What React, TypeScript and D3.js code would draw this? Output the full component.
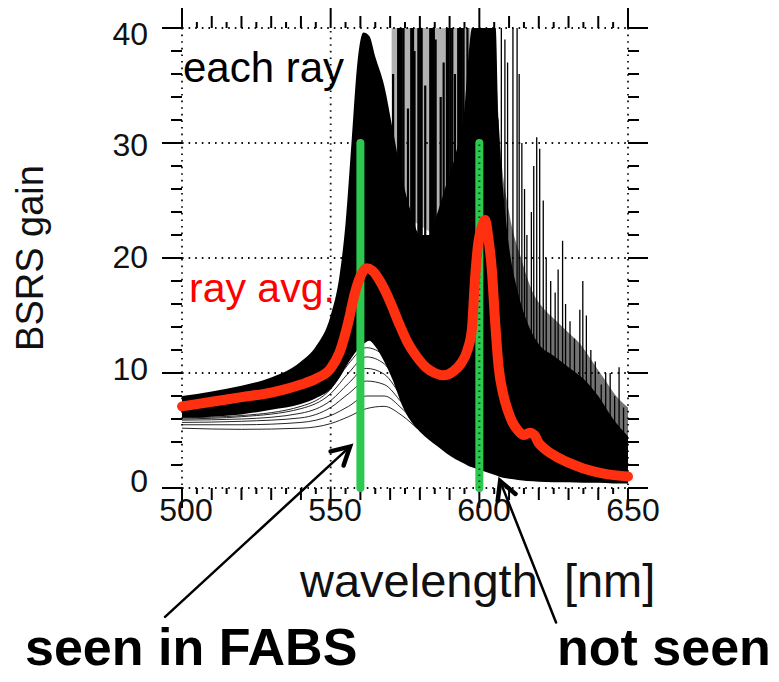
import React from 'react';
import * as d3 from 'd3';

const WIDTH = 779;
const HEIGHT = 682;

// tick labels
const xTickLabels = [500, 550, 600, 650];
const yTickLabels = [0, 10, 20, 30, 40];
const xGrid = [550, 600];
const yGrid = [10, 20, 30];

// ray average (red)
const avgNm = [500, 510, 520, 530, 540, 545, 550, 553, 556, 558, 560, 562, 564, 567, 570, 573, 576, 579, 582, 585, 588, 591, 594, 596, 597.5, 598.5, 599.5, 601, 602, 603, 604.2, 605.3, 606.5, 608, 609.5, 611, 613, 615, 617, 618.5, 620, 622.5, 626, 630, 635, 641, 646, 650];
const avgGain = [7.1, 7.5, 7.9, 8.3, 9.0, 9.5, 10.4, 11.8, 14.5, 16.8, 18.4, 19.1, 18.9, 17.8, 16.2, 14.3, 12.6, 11.4, 10.5, 10.0, 9.8, 10.1, 10.9, 12.0, 13.8, 18.0, 21.0, 22.8, 23.3, 21.8, 19.0, 14.5, 10.5, 8.2, 6.8, 5.8, 5.0, 4.6, 4.8, 4.6, 3.9, 3.3, 2.7, 2.2, 1.7, 1.3, 1.1, 1.0];

// dense bundle of individual rays: upper / lower envelope
const coreNm = [500, 510, 520, 530, 540, 545, 550, 553, 555, 557, 559, 561, 563, 565, 568, 571, 574, 577, 580, 583, 586, 589, 592, 595, 596.5, 597.5, 605.5, 606.5, 608, 610, 613, 616, 620, 625, 630, 635, 640, 645, 650];
const coreHi = [8.0, 8.4, 8.9, 9.6, 11.0, 12.3, 15.0, 18.5, 23, 30, 37, 39.6, 39.3, 37.5, 35, 31, 27, 24, 22, 22, 24, 26.5, 29, 33, 38, 40, 40, 32, 26, 21, 17, 14.5, 12.5, 11.5, 10.5, 9.5, 8, 6, 4.5];
const coreLo = [6.1, 6.2, 6.4, 6.8, 7.3, 7.8, 8.6, 9.6, 10.5, 11.3, 12.0, 12.5, 12.8, 12.3, 11.0, 9.3, 7.2, 5.8, 4.9, 4.2, 3.6, 3.0, 2.5, 2.1, 1.9, 1.8, 1.1, 1.0, 0.9, 0.8, 0.7, 0.6, 0.55, 0.5, 0.5, 0.45, 0.45, 0.4, 0.4];

// loose streaks between the two resonances
const streakNm = [570.5, 573, 597];
const streakLo = [31, 24, 20];

// looser mesh of rays at long wavelengths
const meshNm = [605, 607, 610, 614, 618, 622, 626, 630, 634, 638, 642, 646, 650];
const meshHi = [40, 30, 24, 20, 17, 15.5, 14.5, 13.5, 12.5, 11, 9.5, 8, 7];
const meshLo = [2, 2, 2, 2, 2, 2, 2, 2, 2, 2, 2, 2, 2];

// resonance spikes of individual rays
const spikeNm = [571, 572.7, 573.3, 573.9, 574.5, 576, 577.1, 577.7, 578.2, 579.5, 580.1, 580.6, 581.8, 583.5, 584.1, 584.7, 585.3, 587, 588, 589.1, 589.7, 590.3, 590.9, 591.8, 592.9, 593.5, 594.1, 594.7, 596, 607.4, 608.6, 609.5, 611.3, 612.7, 613.4, 614.3, 615.2, 616, 617.5, 618.3, 619.3, 620.3, 621.5, 622.5, 624, 625.5, 626.5, 628, 629, 630.5, 632, 633.8, 634.8, 636, 637.5, 639, 641, 642.5, 644, 645.5, 647, 648.5];
const spikeTop = [36, 40, 40, 40, 40, 33, 40, 40, 38, 40, 40, 40, 35, 40, 40, 40, 39, 34, 37, 40, 40, 40, 40, 36, 40, 40, 40, 40, 40, 40, 39, 37, 40, 40, 36, 30, 26, 22, 24, 28, 30.5, 29.5, 25, 20, 18, 17, 19, 21.5, 16, 14.5, 13, 15.5, 18, 15, 12, 11, 9, 10, 10, 8, 10.5, 7];

// weakest individual rays below the bundle
const fringeNm = [500, 520, 540, 550, 556, 562, 568, 574, 580, 590, 600, 615, 650];
const fringe1 = [5.2, 5.1, 5.2, 5.6, 6.2, 6.9, 7.1, 6.3, 5.0, 3.4, 2.0, 1.0, 0.5];
const fringe2 = [5.5, 5.5, 5.7, 6.3, 7.1, 8.0, 8.0, 6.9, 5.3, 3.6, 2.1, 1.0, 0.5];
const fringe3 = [5.7, 5.8, 6.1, 7.0, 8.2, 9.3, 9.0, 7.4, 5.6, 3.8, 2.2, 1.1, 0.5];
const fringe4 = [5.9, 6.0, 6.5, 7.6, 9.1, 10.4, 9.9, 7.9, 5.9, 3.9, 2.3, 1.1, 0.5];
const fringe5 = [6.0, 6.2, 6.9, 8.2, 10.0, 11.4, 10.8, 8.4, 6.1, 4.0, 2.4, 1.1, 0.5];
const fringe6 = [6.1, 6.3, 7.1, 8.6, 10.8, 12.2, 11.5, 8.8, 6.3, 4.1, 2.4, 1.1, 0.5];
const fringes = [fringe1, fringe2, fringe3, fringe4, fringe5, fringe6];

// FABS wavelengths (green)
const greenNm = [560, 600];
const greenTop = [30, 30];

// annotation arrows (data coords: tail -> tip)
const arrowTailNm = [494.3, 625.8];
const arrowTailGain = [-11.2, -11.7];
const arrowTipNm = [556.5, 607];
const arrowTipGain = [3.6, 0.6];

const FONT = '"Liberation Sans", Arial, Helvetica, sans-serif';

export default function App() {
  const x = d3.scaleLinear().domain([500, 650]).range([182, 628]);
  const y = d3.scaleLinear().domain([0, 40]).range([488, 28]);
  const yLab = d3.scaleLinear().domain([0, 40]).range([480, 33]);
  const xLab = d3.scaleLinear().domain([500, 650]).range([186, 633]);

  const [x0, x1] = x.range();
  const [yb, yt] = y.range();

  const coreArea = d3
    .area<number>()
    .x((_, i) => x(coreNm[i]))
    .y0((_, i) => y(coreLo[i]))
    .y1((_, i) => y(coreHi[i]))
    .curve(d3.curveMonotoneX)(coreNm);

  const meshArea = d3
    .area<number>()
    .x((_, i) => x(meshNm[i]))
    .y0((_, i) => y(meshLo[i]))
    .y1((_, i) => y(meshHi[i]))
    .curve(d3.curveMonotoneX)(meshNm);

  const streakArea = d3
    .area<number>()
    .x((_, i) => x(streakNm[i]))
    .y0((_, i) => y(streakLo[i]))
    .y1(() => y(40))
    .curve(d3.curveLinear)(streakNm);

  const lineGen = (xs: number[], ys: number[]) =>
    d3
      .line<number>()
      .x((_, i) => x(xs[i]))
      .y((_, i) => y(ys[i]))
      .curve(d3.curveMonotoneX)(xs);

  const avgPath = lineGen(avgNm, avgGain);

  const xTicks = d3.range(500, 651, 5);
  const yTicks = d3.range(0, 41, 2);
  const xLen = (v: number) => (v % 50 === 0 ? 20 : v % 10 === 0 ? 12 : 6);
  const yLen = (v: number) => (v % 10 === 0 ? 20 : 11);

  const dotted = { stroke: '#111', strokeWidth: 1.8, strokeDasharray: '1.6 5' };

  const arrows = arrowTipNm.map((_, i) => {
    const tx = x(arrowTipNm[i]);
    const ty = y(arrowTipGain[i]);
    const sx = x(arrowTailNm[i]);
    const sy = y(arrowTailGain[i]);
    const ang = Math.atan2(ty - sy, tx - sx);
    const L = 20;
    const a = 0.5;
    const h1 = [tx - L * Math.cos(ang - a), ty - L * Math.sin(ang - a)];
    const h2 = [tx - L * Math.cos(ang + a), ty - L * Math.sin(ang + a)];
    return { tx, ty, sx, sy, h1, h2 };
  });

  return (
    <svg
      width={WIDTH}
      height={HEIGHT}
      style={{ position: 'absolute', left: 0, top: 0, background: '#fff' }}
      fontFamily={FONT}
    >
      <defs>
        <clipPath id="plot">
          <rect x={x0} y={yt} width={x1 - x0} height={yb - yt} />
        </clipPath>
      </defs>

      {/* grid */}
      {xGrid.map((v) => (
        <line key={'gx' + v} x1={x(v)} x2={x(v)} y1={yb} y2={yt} {...dotted} />
      ))}
      {yGrid.map((v) => (
        <line key={'gy' + v} x1={x0} x2={x1} y1={y(v)} y2={y(v)} {...dotted} />
      ))}
      {/* frame */}
      <line x1={x0} x2={x1} y1={yt} y2={yt} {...dotted} />
      <line x1={x0} x2={x1} y1={yb} y2={yb} {...dotted} />
      <line x1={x0} x2={x0} y1={yt} y2={yb} {...dotted} />
      <line x1={x1} x2={x1} y1={yt} y2={yb} {...dotted} />

      {/* ticks */}
      <g stroke="#000" strokeWidth={2}>
        {xTicks.map((v) => (
          <g key={'xt' + v}>
            <line x1={x(v)} x2={x(v)} y1={yb} y2={yb + xLen(v)} />
            <line x1={x(v)} x2={x(v)} y1={yt} y2={yt - xLen(v)} />
          </g>
        ))}
        {yTicks.map((v) => (
          <g key={'yt' + v}>
            <line x1={x0} x2={x0 - yLen(v)} y1={y(v)} y2={y(v)} />
            <line x1={x1} x2={x1 + yLen(v)} y1={y(v)} y2={y(v)} />
          </g>
        ))}
      </g>

      {/* tick labels */}
      <g fontSize={32} fill="#111">
        {yTickLabels.map((v) => (
          <text key={'yl' + v} x={148} y={yLab(v)} textAnchor="end" dy="0.36em">
            {v}
          </text>
        ))}
        {xTickLabels.map((v) => (
          <text key={'xl' + v} x={xLab(v)} y={521} textAnchor="middle">
            {v}
          </text>
        ))}
      </g>

      {/* rays */}
      <g clipPath="url(#plot)">
        <path d={meshArea || ''} fill="#000" opacity={0.55} />
        <path d={streakArea || ''} fill="#000" opacity={0.3} />
        <path d={coreArea || ''} fill="#000" />
        {spikeNm.map((v, i) => (
          <line
            key={'sp' + i}
            x1={x(v)}
            x2={x(v)}
            y1={y(v < 600 ? 15 : 3)}
            y2={y(spikeTop[i])}
            stroke="#000"
            strokeWidth={v > 606 ? 1.3 : 2.2}
          />
        ))}
        {fringes.map((f, i) => (
          <path
            key={'fr' + i}
            d={lineGen(fringeNm, f) || ''}
            fill="none"
            stroke="#000"
            strokeWidth={1}
            opacity={0.85}
          />
        ))}
      </g>

      {/* FABS wavelengths */}
      {greenNm.map((v, i) => (
        <line
          key={'gn' + i}
          x1={x(v)}
          x2={x(v)}
          y1={y(0)}
          y2={y(greenTop[i])}
          stroke="#2dc84f"
          strokeWidth={8}
          strokeLinecap="round"
        />
      ))}
      <line
        x1={x(greenNm[1])}
        x2={x(greenNm[1])}
        y1={y(0)}
        y2={y(greenTop[1])}
        stroke="#0a3a14"
        strokeWidth={2}
        strokeDasharray="1.5 4.5"
      />

      {/* ray average */}
      <path
        d={avgPath || ''}
        fill="none"
        stroke="#ff3010"
        strokeWidth={10}
        strokeLinejoin="round"
        strokeLinecap="round"
      />

      {/* texts */}
      <text x={183} y={82} fontSize={42} fill="#000">
        each ray
      </text>
      <text x={189} y={302} fontSize={41} fill="#ff0000">
        ray avg.
      </text>
      <text
        transform="translate(43,258) rotate(-90)"
        textAnchor="middle"
        fontSize={38}
        fill="#111"
      >
        BSRS gain
      </text>
      <text x={300} y={597} fontSize={47} fill="#111" style={{ whiteSpace: 'pre' }}>
        {'wavelength  [nm]'}
      </text>
      <text x={25} y={665} fontSize={52} fontWeight="bold" fill="#000">
        seen in FABS
      </text>
      <text x={557} y={665} fontSize={52} fontWeight="bold" fill="#000">
        not seen
      </text>

      {/* arrows */}
      {arrows.map((a, i) => (
        <g key={'ar' + i} stroke="#000" fill="none" strokeLinecap="round">
          <line x1={a.sx} y1={a.sy} x2={a.tx} y2={a.ty} strokeWidth={2.5} />
          <polyline
            points={`${a.h1[0]},${a.h1[1]} ${a.tx},${a.ty} ${a.h2[0]},${a.h2[1]}`}
            strokeWidth={4.5}
            strokeLinejoin="miter"
          />
        </g>
      ))}
    </svg>
  );
}
